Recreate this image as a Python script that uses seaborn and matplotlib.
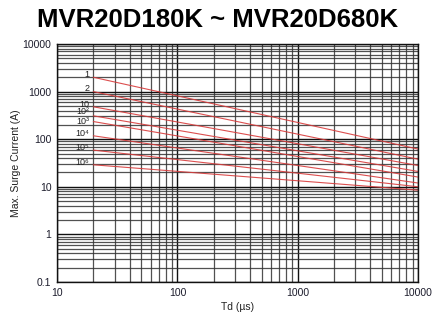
import numpy as np
import pandas as pd
import matplotlib
matplotlib.use("Agg")
import matplotlib.pyplot as plt
import seaborn as sns
from matplotlib.ticker import LogLocator, FixedLocator, FixedFormatter, NullFormatter

# ---- data ----
curve_labels = ["1", "2", "10", "10²", "10³", "10⁴", "10⁵", "10⁶"]
td_start = 20
td_end = 10000
i_start = [2000, 1000, 480, 310, 235, 118, 59, 29]
i_end = [62, 38, 28, 21, 16, 12, 10, 8.5]
x_ticks = [10, 100, 1000, 10000]
x_ticklabels = ["10", "100", "1000", "10000"]
y_ticks = [0.1, 1, 10, 100, 1000, 10000]
y_ticklabels = ["0.1", "1", "10", "100", "1000", "10000"]

rows = []
for lab, a, b in zip(curve_labels, i_start, i_end):
    rows.append({"curve": lab, "td": td_start, "i": a})
    rows.append({"curve": lab, "td": td_end, "i": b})
df = pd.DataFrame(rows)

sns.set_theme(style="white")
plt.rcParams["font.family"] = ["Liberation Sans", "DejaVu Sans"]

fig = plt.figure(figsize=(4.36, 3.18), dpi=100)
ax = fig.add_axes([0.131, 0.1132, 0.828, 0.7484])

sns.lineplot(data=df, x="td", y="i", hue="curve", palette=["#d83c3c"] * len(curve_labels),
             linewidth=0.8, legend=False, ax=ax, alpha=0.9)

ax.set_xscale("log")
ax.set_yscale("log")
ax.set_xlim(10, 10000)
ax.set_ylim(0.1, 10000)

ax.xaxis.set_major_locator(FixedLocator(x_ticks))
ax.xaxis.set_major_formatter(FixedFormatter(x_ticklabels))
ax.yaxis.set_major_locator(FixedLocator(y_ticks))
ax.yaxis.set_major_formatter(FixedFormatter(y_ticklabels))
ax.xaxis.set_minor_locator(LogLocator(base=10, subs=np.arange(2, 10), numticks=20))
ax.yaxis.set_minor_locator(LogLocator(base=10, subs=np.arange(2, 10), numticks=20))
ax.xaxis.set_minor_formatter(NullFormatter())
ax.yaxis.set_minor_formatter(NullFormatter())

ax.grid(True, which="major", color="#111111", linewidth=1.0)
ax.grid(True, which="minor", color="#333333", linewidth=0.9, alpha=0.85)
ax.set_axisbelow(True)

for s in ax.spines.values():
    s.set_color("#111111")
    s.set_linewidth(1.0)

ax.tick_params(axis="both", which="major", labelsize=7.5, colors="#222222", length=3,
               direction="in", pad=4)
ax.tick_params(axis="both", which="minor", length=2, direction="in")
for t in ax.get_xticklabels() + ax.get_yticklabels():
    t.set_color("#1c1c2c")

ax.set_xlabel("Td (µs)", fontsize=7.5, color="#222222", labelpad=3)
ax.set_ylabel("Max. Surge Current (A)", fontsize=7.5, color="#222222", labelpad=1)

offsets = [2, 2, 2, 3, 0, 2, 2, 2]
for lab, a, dy in zip(curve_labels, i_start, offsets):
    ax.annotate(lab, xy=(td_start, a), xytext=(-3, dy), textcoords="offset points",
                ha="right", va="center", fontsize=6.5, color="#222222")

fig.suptitle("MVR20D180K ~ MVR20D680K", fontsize=18.5, fontweight="bold", color="black",
             y=0.975, x=0.5)

fig.savefig("out.png", dpi=100)
